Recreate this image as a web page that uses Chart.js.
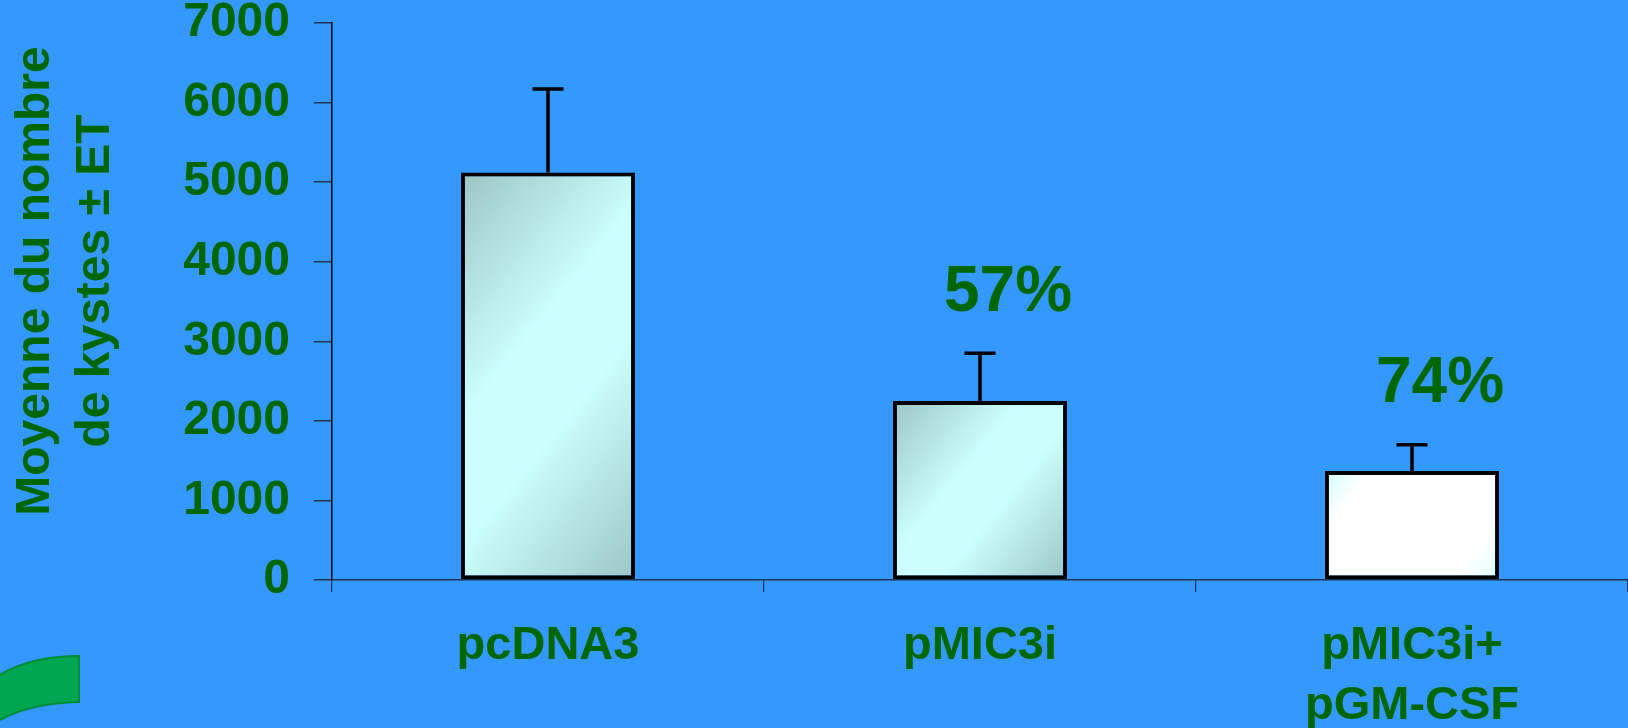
<!DOCTYPE html>
<html>
<head>
<meta charset="utf-8">
<script src="https://cdn.jsdelivr.net/npm/chart.js@4.4.1/dist/chart.umd.min.js"></script>
<style>
  html, body { margin: 0; padding: 0; background: #3399ff; overflow: hidden; }
  #wrap { position: relative; width: 1628px; height: 728px; }
</style>
</head>
<body>
<div id="wrap"><canvas id="c"></canvas></div>
<script>
// ---- data ----
const categories = ['pcDNA3', 'pMIC3i', ['pMIC3i+', 'pGM-CSF']];
const meanCysts = [5120, 2250, 1370];
const sdCysts = [1050, 600, 330];
const reductionLabels = ['', '57%', '74%'];
const yTitleLines = ['Moyenne du nombre', 'de kystes \u00b1 ET'];
const yMin = 0, yMax = 7000, yStep = 1000;

const GREEN = '#006600';
const FONT = '"Liberation Sans", Arial, Helvetica, sans-serif';

const barFills = [
  [[0, '#9cc4c4'], [0.4, '#ccffff'], [0.6, '#ccffff'], [1, '#9cc4c4']],
  [[0, '#9cc4c4'], [0.4, '#ccffff'], [0.6, '#ccffff'], [1, '#9cc4c4']],
  [[0, '#ccffff'], [0.18, '#ffffff'], [0.82, '#ffffff'], [1, '#ddffff']]
];

function barGradient(ctx) {
  const chart = ctx.chart;
  const xs = chart.scales.x, ys = chart.scales.y;
  if (!chart.chartArea || !xs || !ys || ctx.type !== 'data') return '#ccffff';
  const i = ctx.dataIndex;
  const cx = xs.getPixelForValue(i);
  const yTop = ys.getPixelForValue(meanCysts[i]);
  const yBot = ys.getPixelForValue(0);
  const cy = (yTop + yBot) / 2;
  const hw = 87, hh = (yBot - yTop) / 2;
  const ux = 0.78, uy = 0.63;
  const k = hw * ux + hh * uy;
  const g = chart.ctx.createLinearGradient(cx - k * ux, cy - k * uy, cx + k * ux, cy + k * uy);
  barFills[i].forEach(s => g.addColorStop(s[0], s[1]));
  return g;
}

const decorPlugin = {
  id: 'decor',
  beforeDraw(chart) {
    const c = chart.ctx;
    c.save();
    c.fillStyle = '#3399ff';
    c.fillRect(0, 0, chart.width, chart.height);
    // green arc ornament, bottom-left
    c.beginPath();
    c.moveTo(79, 656);
    c.quadraticCurveTo(30, 656, -2, 676);
    c.lineTo(-2, 721);
    c.quadraticCurveTo(30, 703, 79, 702);
    c.closePath();
    c.fillStyle = '#00a651';
    c.fill();
    c.lineWidth = 2;
    c.strokeStyle = '#008a36';
    c.stroke();
    c.restore();
  },
  afterDraw(chart) {
    const c = chart.ctx;
    c.save();
    c.fillStyle = GREEN;
    c.font = 'bold 48px ' + FONT;
    c.textAlign = 'center';
    c.textBaseline = 'middle';
    c.translate(0, 281);
    c.rotate(-Math.PI / 2);
    c.fillText(yTitleLines[0], 0, 36);
    c.fillText(yTitleLines[1], 0, 96);
    c.restore();
  }
};

const errorBarPlugin = {
  id: 'errorBars',
  afterDatasetsDraw(chart) {
    const c = chart.ctx;
    const xs = chart.scales.x, ys = chart.scales.y;
    c.save();
    c.strokeStyle = '#000';
    c.lineWidth = 3.5;
    meanCysts.forEach((m, i) => {
      const x = xs.getPixelForValue(i);
      const yBar = ys.getPixelForValue(m);
      const yTop = ys.getPixelForValue(m + sdCysts[i]);
      c.beginPath();
      c.moveTo(x, yBar);
      c.lineTo(x, yTop);
      c.moveTo(x - 15.5, yTop);
      c.lineTo(x + 15.5, yTop);
      c.stroke();
      if (reductionLabels[i]) {
        c.fillStyle = GREEN;
        c.font = 'bold 64px ' + FONT;
        c.textAlign = 'center';
        c.textBaseline = 'middle';
        c.fillText(reductionLabels[i], x + 28, yTop - 60);
      }
    });
    c.restore();
  }
};

new Chart(document.getElementById('c'), {
  type: 'bar',
  data: {
    labels: categories,
    datasets: [{
      data: meanCysts,
      backgroundColor: barGradient,
      borderColor: '#000000',
      borderWidth: 4,
      borderSkipped: false,
      barPercentage: 0.403,
      categoryPercentage: 1.0
    }]
  },
  options: {
    responsive: true,
    maintainAspectRatio: false,
    animation: false,
    layout: { padding: { top: 0, right: 0, left: 0, bottom: 0 } },
    plugins: { legend: { display: false }, tooltip: { enabled: false } },
    scales: {
      x: {
        afterFit(scale) { scale.height = 148; },
        grid: { drawOnChartArea: false, drawTicks: true, tickLength: 12, color: '#1b3553', lineWidth: 1.2, offset: true },
        border: { color: '#1b3553', width: 1.5 },
        ticks: {
          autoSkip: false, maxRotation: 0, padding: 24,
          color: GREEN,
          font: { family: FONT, weight: 'bold', size: 47, lineHeight: 1.277 }
        }
      },
      y: {
        min: yMin, max: yMax,
        afterFit(scale) { scale.width = 332; scale.paddingTop = 23; scale.paddingBottom = 0; },
        grid: { drawOnChartArea: false, drawTicks: true, tickLength: 18, color: '#1b3553', lineWidth: 1.5 },
        border: { color: '#000000', width: 1.5 },
        ticks: {
          stepSize: yStep, padding: 24,
          color: GREEN,
          callback: (v) => String(v),
          font: { family: FONT, weight: 'bold', size: 48, lineHeight: 0.96 }
        }
      }
    }
  },
  plugins: [decorPlugin, errorBarPlugin]
});
</script>
</body>
</html>
